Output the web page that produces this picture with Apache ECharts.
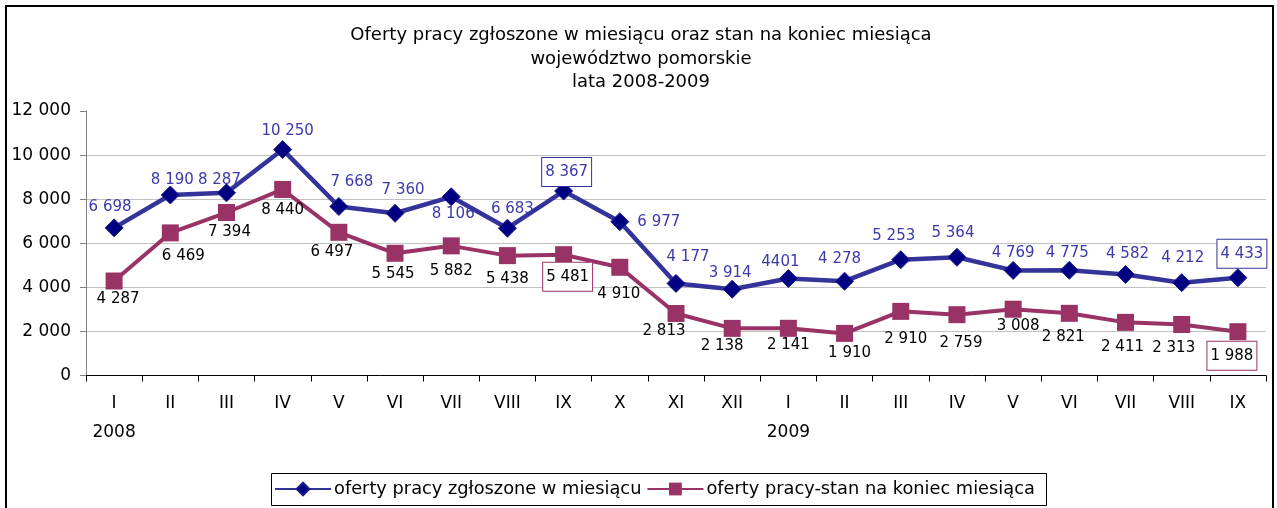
<!DOCTYPE html>
<html>
<head>
<meta charset="utf-8">
<script src="https://cdn.jsdelivr.net/npm/echarts@6/dist/echarts.min.js"></script>
<style>
html,body{margin:0;padding:0;background:#fff;}
#chart{width:1277px;height:508px;}
</style>
</head>
<body>
<div id="chart"></div>
<script>
const titleLines = ['Oferty pracy zgłoszone w miesiącu oraz stan na koniec miesiąca', 'województwo pomorskie', 'lata 2008-2009'];
const categories = ['I','II','III','IV','V','VI','VII','VIII','IX','X','XI','XII','I','II','III','IV','V','VI','VII','VIII','IX'];
const yearLabels = ['2008','','','','','','','','','','','','2009','','','','','','','',''];
const seriesNames = ['oferty pracy zgłoszone w miesiącu', 'oferty pracy-stan na koniec miesiąca'];
const offersMonth = [6698, 8190, 8287, 10250, 7668, 7360, 8106, 6683, 8367, 6977, 4177, 3914, 4401, 4278, 5253, 5364, 4769, 4775, 4582, 4212, 4433];
const offersEnd = [4287, 6469, 7394, 8440, 6497, 5545, 5882, 5438, 5481, 4910, 2813, 2138, 2141, 1910, 2910, 2759, 3008, 2821, 2411, 2313, 1988];
const yTicks = [0, 2000, 4000, 6000, 8000, 10000, 12000];

// label styling (positions relative to points)
const blueOffsets = [[-4,-21],[2,-15],[-7,-13],[5,-18],[13,-24],[8,-23],[2,17],[5,-19],[3,-19],[39,0],[12,-26],[-2,-16],[-8,-16],[-5,-22],[-7,-24],[-4,-24],[0,-17],[-2,-17],[2,-20],[1,-25],[4,-24]];
const redOffsets = [[4,18],[13,23],[3,20],[0,21],[-7,20],[-2,21],[0,25],[0,23],[4,22],[-1,27],[-12,18],[-10,18],[0,17],[5,20],[5,28],[4,28],[5,17],[-6,24],[-3,25],[-8,24],[-6,24]];
const blueBoxed = [8, 20];
const redBoxed = [8, 20];

const FONT = 'DejaVu Sans';
const fmt = v => String(v).replace(/\B(?=(\d{3})+(?!\d))/g, ' ');
const specialNoSpace = {12: '4401'};

function buildData(values, offsets, boxed, boxColor, isBlue) {
  return values.map((v, i) => {
    const lab = { offset: offsets[i] };
    if (isBlue && specialNoSpace[i]) lab.formatter = specialNoSpace[i];
    if (boxed.indexOf(i) >= 0) {
      lab.borderColor = boxColor;
      lab.borderWidth = 1;
      lab.padding = [7, 3, 6, 3];
      lab.backgroundColor = '#fff';
    }
    return { value: v, label: lab };
  });
}

const chart = echarts.init(document.getElementById('chart'), null, {renderer: 'canvas'});
chart.setOption({
  animation: false,
  backgroundColor: '#fff',
  textStyle: { fontFamily: FONT },
  title: {
    text: titleLines.join('\n'),
    left: 641, top: 24, textAlign: 'center', padding: 0,
    textStyle: { fontFamily: FONT, fontSize: 18, fontWeight: 'normal', color: '#000', lineHeight: 23.5 }
  },
  graphic: [
    { type: 'rect', shape: { x: 6, y: 6, width: 1267, height: 520 }, style: { fill: null, stroke: '#000', lineWidth: 2 }, z: 100, silent: true },
    { type: 'rect', shape: { x: 271.5, y: 473.5, width: 775, height: 32 }, style: { fill: null, stroke: '#000', lineWidth: 1 }, z: 100, silent: true }
  ],
  legend: {
    left: 274, top: 480, padding: 0, itemGap: 5, itemWidth: 56, itemHeight: 16,
    textStyle: { fontFamily: FONT, fontSize: 17.8, color: '#000', padding: [0,0,0,-2] },
    data: seriesNames
  },
  grid: { left: 86, right: 11, top: 111, bottom: 132.5, containLabel: false },
  xAxis: {
    type: 'category', data: categories, boundaryGap: true,
    axisLine: { lineStyle: { color: '#000', width: 1 } },
    axisTick: { show: true, length: 6, inside: false, lineStyle: { color: '#000' }, alignWithLabel: false },
    axisLabel: {
      interval: 0, margin: 14, fontFamily: FONT, fontSize: 17, color: '#000', lineHeight: 29,
      formatter: (v, i) => yearLabels[i] ? v + '\n' + yearLabels[i] : v
    },
    splitLine: { show: false }
  },
  yAxis: {
    type: 'value', min: yTicks[0], max: yTicks[yTicks.length - 1], interval: yTicks[1] - yTicks[0],
    axisLine: { show: true, lineStyle: { color: '#808080', width: 1 } },
    axisTick: { show: true, length: 6, lineStyle: { color: '#808080' } },
    axisLabel: { margin: 15, fontFamily: FONT, fontSize: 17, color: '#000', formatter: v => fmt(v) },
    splitLine: { show: true, showMaxLine: false, showMinLine: false, lineStyle: { color: '#c0c0c0', width: 1 } }
  },
  series: [
    {
      name: seriesNames[0], type: 'line', data: buildData(offersMonth, blueOffsets, blueBoxed, '#333399', true),
      symbol: 'diamond', symbolSize: 18,
      lineStyle: { color: '#333399', width: 4.5 },
      itemStyle: { color: '#000080', borderColor: '#1c1c8c', borderWidth: 1 },
      label: { show: true, position: 'inside', fontFamily: FONT, fontSize: 15, color: '#3a3aad', formatter: p => fmt(p.value) },
      z: 3
    },
    {
      name: seriesNames[1], type: 'line', data: buildData(offersEnd, redOffsets, redBoxed, '#993366', false),
      symbol: 'rect', symbolSize: 17,
      lineStyle: { color: '#993366', width: 4 },
      itemStyle: { color: '#993366', borderColor: '#993366', borderWidth: 0 },
      label: { show: true, position: 'inside', fontFamily: FONT, fontSize: 15, color: '#000', formatter: p => fmt(p.value) },
      z: 2
    }
  ]
});
</script>
</body>
</html>
